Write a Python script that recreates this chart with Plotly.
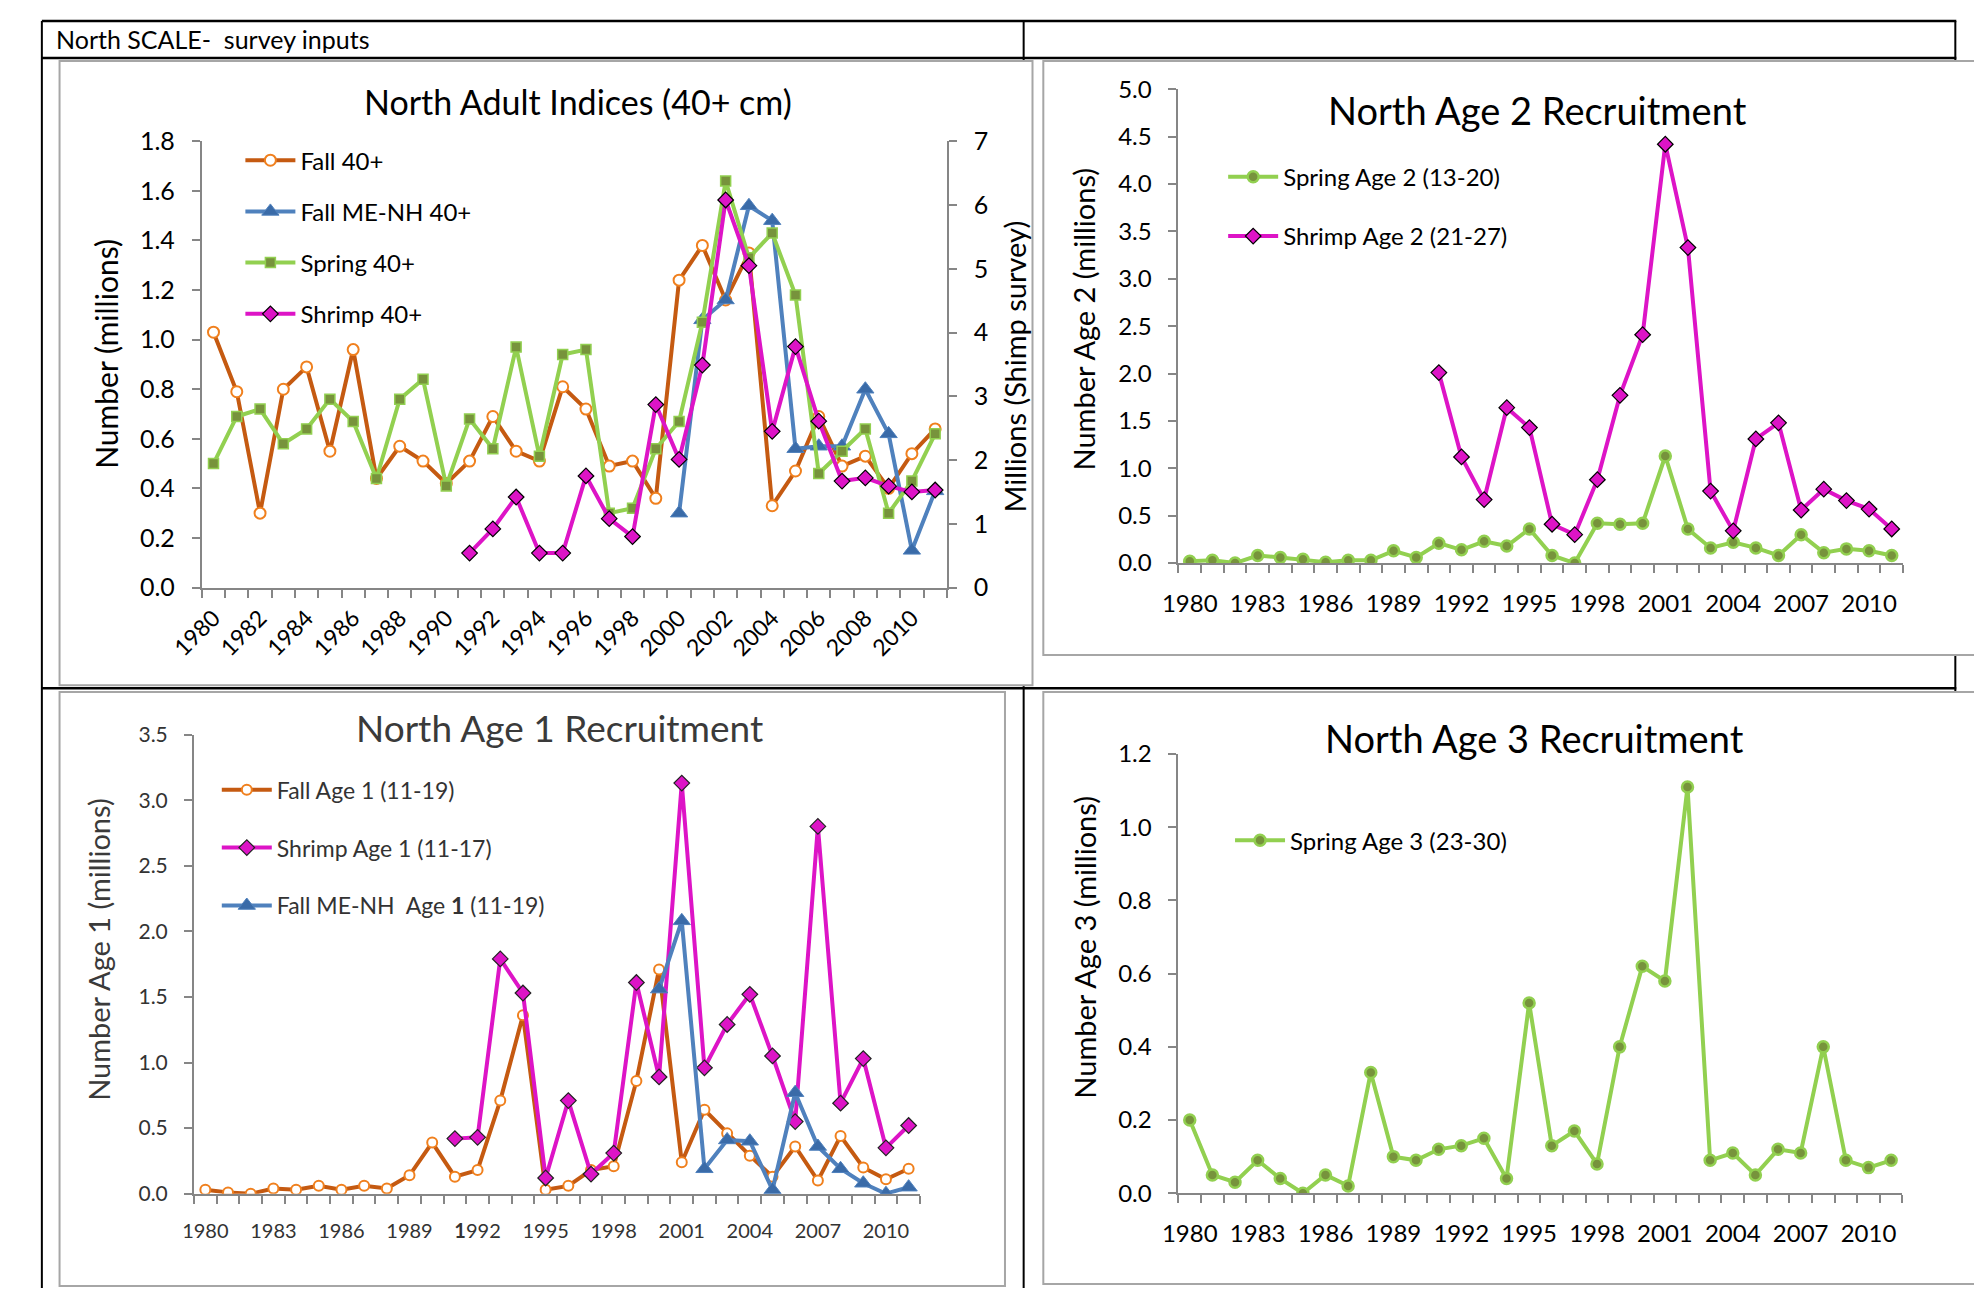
import plotly.graph_objects as go

W, H = 1974, 1302

# ---------------- data (millions) ----------------
years = list(range(1980, 2012))

# North adult indices, 40+ cm
fall_40 = [1.03, 0.79, 0.30, 0.80, 0.89, 0.55, 0.96, 0.44, 0.57, 0.51, 0.42, 0.51, 0.69, 0.55, 0.51, 0.81, 0.72,
           0.49, 0.51, 0.36, 1.24, 1.38, 1.16, 1.35, 0.33, 0.47, 0.69, 0.49, 0.53, 0.40, 0.54, 0.64]
spring_40 = [0.50, 0.69, 0.72, 0.58, 0.64, 0.76, 0.67, 0.44, 0.76, 0.84, 0.41, 0.68, 0.56, 0.97, 0.53, 0.94, 0.96,
             0.30, 0.32, 0.56, 0.67, 1.07, 1.64, 1.33, 1.43, 1.18, 0.46, 0.55, 0.64, 0.30, 0.43, 0.62]
fall_menh_years = list(range(2000, 2012))
fall_menh_40 = [0.30, 1.08, 1.16, 1.54, 1.48, 0.56, 0.57, 0.57, 0.80, 0.62, 0.15, 0.39]
shrimp_years = list(range(1991, 2012))
shrimp_40 = [0.54, 0.92, 1.42, 0.54, 0.54, 1.75, 1.08, 0.80, 2.87, 2.01, 3.49, 6.08, 5.05, 2.45, 3.78, 2.61,
             1.67, 1.72, 1.59, 1.50, 1.53]

# Age 2 recruitment
spring_age2 = [0.02, 0.03, 0.00, 0.08, 0.06, 0.04, 0.01, 0.03, 0.03, 0.13,
               0.06, 0.21, 0.14, 0.23, 0.18, 0.36, 0.08, 0.00, 0.42, 0.41,
               0.42, 1.13, 0.36, 0.16, 0.22, 0.16, 0.08, 0.30, 0.11, 0.15,
               0.13, 0.08]
shrimp_age2 = [2.01, 1.12, 0.67, 1.64, 1.43, 0.41, 0.30, 0.88, 1.77, 2.41, 4.42, 3.33, 0.76, 0.34, 1.31, 1.48,
               0.56, 0.78, 0.66, 0.57, 0.36]

# Age 1 recruitment
fall_age1 = [0.03, 0.01, 0.00, 0.04, 0.03, 0.06, 0.03, 0.06, 0.04, 0.14,
             0.39, 0.13, 0.18, 0.71, 1.36, 0.03, 0.06, 0.18, 0.21, 0.86,
             1.71, 0.24, 0.64, 0.46, 0.29, 0.13, 0.36, 0.10, 0.44, 0.20,
             0.11, 0.19]
shrimp_age1 = [0.42, 0.43, 1.79, 1.53, 0.12, 0.71, 0.15, 0.31, 1.61, 0.89, 3.13, 0.96, 1.29, 1.52, 1.05, 0.55,
               2.80, 0.69, 1.03, 0.35, 0.52]
fall_menh_age1 = [1.56, 2.08, 0.19, 0.41, 0.40, 0.03, 0.77, 0.36, 0.19, 0.08, 0.00, 0.05]

# Age 3 recruitment
spring_age3 = [0.20, 0.05, 0.03, 0.09, 0.04, 0.00, 0.05, 0.02, 0.33, 0.10,
               0.09, 0.12, 0.13, 0.15, 0.04, 0.52, 0.13, 0.17, 0.08, 0.40,
               0.62, 0.58, 1.11, 0.09, 0.11, 0.05, 0.12, 0.11, 0.40, 0.09,
               0.07, 0.09]

adult_ticks = list(range(1980, 2011, 2))
recruit_ticks = list(range(1980, 2011, 3))
age1_ticktext = ["<b>1</b>992" if y == 1992 else str(y) for y in recruit_ticks]

# ---------------- styling ----------------
FONT = "Lato"
AX = "#868686"
ORANGE_LINE, ORANGE_MK = "#C55A11", "#F0801E"
BLUE_LINE, BLUE_MK = "#4F81BD", "#3A6BA8"
GREEN_LINE, GREEN_MK = "#92D050", "#77933C"
MAGENTA = "#DD14C6"
GREY_TEXT = "#3a3a3a"


def fx(x):
    return x / W


def fy(y):
    return 1 - y / H


def boundaries(start, end):
    return [v - 0.5 for v in range(start, end + 2)]


def xaxis_cfg(domain, anchor, tickvals, ticktext, angle, size, color="black", standoff=18):
    return dict(domain=domain, anchor=anchor, range=[1979.5, 2011.5], showgrid=False, zeroline=False,
                showline=True, linecolor=AX, linewidth=2, tickmode="array", tickvals=tickvals,
                ticktext=ticktext, ticks="", tickangle=angle, ticklabelstandoff=standoff,
                tickfont=dict(family=FONT, size=size, color=color),
                minor=dict(tickmode="array", tickvals=boundaries(1980, 2011), ticks="outside",
                           ticklen=8, tickwidth=1.5, tickcolor=AX))


def yaxis_cfg(domain, anchor, rng, dtick, fmt, size, color="black", side="left", overlaying=None):
    d = dict(domain=domain, anchor=anchor, range=rng, dtick=dtick, tickformat=fmt, showgrid=False,
             zeroline=False, showline=True, linecolor=AX, linewidth=2, ticks="outside", ticklen=8,
             tickwidth=1.5, tickcolor=AX, side=side, ticklabelstandoff=12,
             tickfont=dict(family=FONT, size=size, color=color))
    if overlaying:
        d["overlaying"] = overlaying
    return d


fig = go.Figure()


def add_line(x, y, name, xa, ya, legend, line_color, symbol, mk_size, mk_color, mk_line, mk_lw=1.5, lw=4):
    fig.add_trace(go.Scatter(
        x=x, y=y, name=name, mode="lines+markers", xaxis=xa, yaxis=ya, legend=legend,
        legendgroup=name,
        line=dict(color=line_color, width=lw),
        marker=dict(symbol=symbol, size=mk_size, color=mk_color, line=dict(color=mk_line, width=mk_lw)),
    ))


# Panel 1: adult indices
add_line(years, fall_40, "Fall 40+", "x", "y", "legend", ORANGE_LINE, "circle", 11, "white", ORANGE_MK, 2)
add_line(fall_menh_years, fall_menh_40, "Fall ME-NH 40+", "x", "y", "legend", BLUE_LINE, "triangle-up", 15,
         BLUE_MK, BLUE_LINE, 1)
add_line(years, spring_40, "Spring 40+", "x", "y", "legend", GREEN_LINE, "square", 10, GREEN_MK, GREEN_LINE, 1.5)
add_line(shrimp_years, shrimp_40, "Shrimp 40+", "x", "y2", "legend", MAGENTA, "diamond", 12, MAGENTA, "black", 1.2)

# Panel 2: age 2
add_line(years, spring_age2, "Spring Age 2 (13-20)", "x2", "y3", "legend2", GREEN_LINE, "circle", 11, GREEN_MK,
         GREEN_LINE, 2.5)
add_line(shrimp_years, shrimp_age2, "Shrimp Age 2 (21-27)", "x2", "y3", "legend2", MAGENTA, "diamond", 12,
         MAGENTA, "black", 1.2)

# Panel 3: age 1
add_line(years, fall_age1, "Fall Age 1 (11-19)", "x3", "y4", "legend3", ORANGE_LINE, "circle", 10, "white",
         ORANGE_MK, 2)
add_line(shrimp_years, shrimp_age1, "Shrimp Age 1 (11-17)", "x3", "y4", "legend3", MAGENTA, "diamond", 12,
         MAGENTA, "#222222", 1.2)
add_line(fall_menh_years, fall_menh_age1, "Fall ME-NH  Age <b>1</b> (11-19)", "x3", "y4", "legend3", BLUE_LINE,
         "triangle-up", 15, BLUE_MK, BLUE_LINE, 1)

# Panel 4: age 3
add_line(years, spring_age3, "Spring Age 3 (23-30)", "x4", "y5", "legend4", GREEN_LINE, "circle", 11, GREEN_MK,
         GREEN_LINE, 2.5)

# ---------------- frame: table rules and chart boxes ----------------
shapes = []


def rule(x0, y0, x1, y1, w=2.5, color="black"):
    shapes.append(dict(type="line", xref="paper", yref="paper", x0=fx(x0), y0=fy(y0), x1=fx(x1), y1=fy(y1),
                       line=dict(color=color, width=w), layer="below"))


def box(x0, y0, x1, y1):
    shapes.append(dict(type="rect", xref="paper", yref="paper", x0=fx(x0), y0=fy(y0), x1=fx(x1), y1=fy(y1),
                       line=dict(color="#A6A6A6", width=2), fillcolor="white", layer="below"))


rule(8, 5, 1956, 5)
rule(8, 43, 1956, 43)
rule(8, 5, 8, 1302, 2)
rule(1007, 5, 1007, 1302, 2)
rule(1955, 5, 1955, 694, 2)
rule(8, 688, 1956, 688)

box(26, 46, 1016, 685)
box(1027, 46, 1978, 654)
box(26, 692, 988, 1300)
box(1027, 692, 1978, 1298)

# ---------------- text ----------------
annotations = [
    dict(text="North SCALE-  survey inputs", x=fx(20), y=fy(24), xanchor="left", yanchor="middle",
         font=dict(family=FONT, size=25, color="black")),
    dict(text="North Adult Indices (40+ cm)", x=fx(554), y=fy(88), xanchor="center", yanchor="middle",
         font=dict(family=FONT, size=34, color="black")),
    dict(text="North Age 2 Recruitment", x=fx(1530), y=fy(96), xanchor="center", yanchor="middle",
         font=dict(family=FONT, size=38, color="black")),
    dict(text="North Age 1 Recruitment", x=fx(535), y=fy(728), xanchor="center", yanchor="middle",
         font=dict(family=FONT, size=37, color=GREY_TEXT)),
    dict(text="North Age 3 Recruitment", x=fx(1527), y=fy(739), xanchor="center", yanchor="middle",
         font=dict(family=FONT, size=38, color="black")),
    dict(text="Number (millions)", x=fx(73), y=fy(346), textangle=-90, xanchor="center", yanchor="middle",
         font=dict(family=FONT, size=30, color="black")),
    dict(text="Millions (Shimp survey)", x=fx(998), y=fy(359), textangle=-90, xanchor="center",
         yanchor="middle", font=dict(family=FONT, size=29, color="black")),
    dict(text="Number Age 2 (millions)", x=fx(1068), y=fy(310), textangle=-90, xanchor="center",
         yanchor="middle", font=dict(family=FONT, size=29, color="black")),
    dict(text="Number Age 1 (millions)", x=fx(66), y=fy(955), textangle=-90, xanchor="center",
         yanchor="middle", font=dict(family=FONT, size=29, color=GREY_TEXT)),
    dict(text="Number Age 3 (millions)", x=fx(1068), y=fy(953), textangle=-90, xanchor="center",
         yanchor="middle", font=dict(family=FONT, size=29, color="black")),
]
for a in annotations:
    a.update(xref="paper", yref="paper", showarrow=False)


def legend_cfg(x, y, size, gap, color="black"):
    return dict(x=fx(x), y=fy(y), xanchor="left", yanchor="top", bgcolor="rgba(0,0,0,0)",
                font=dict(family=FONT, size=size, color=color), tracegroupgap=gap, itemwidth=50,
                traceorder="grouped")


fig.update_layout(
    width=W, height=H, margin=dict(l=0, r=0, t=0, b=0),
    paper_bgcolor="white", plot_bgcolor="rgba(0,0,0,0)",
    showlegend=True,
    shapes=shapes, annotations=annotations,
    legend=legend_cfg(210, 125, 24, 17),
    legend2=legend_cfg(1210, 142, 24, 25),
    legend3=legend_cfg(186, 770, 23, 25, "#333333"),
    legend4=legend_cfg(1217, 821, 24, 20),
    # panel 1
    xaxis=xaxis_cfg([fx(170.8), fx(928.8)], "y", adult_ticks, [str(v) for v in adult_ticks], -45, 23,
                    standoff=6),
    yaxis=yaxis_cfg([fy(585), fy(128.3)], "x", [0, 1.8], 0.2, ".1f", 25),
    yaxis2=yaxis_cfg([fy(585), fy(128.3)], "x", [0, 7], 1, "d", 25, side="right", overlaying="y"),
    # panel 2
    xaxis2=xaxis_cfg([fx(1164.5), fx(1901.8)], "y3", recruit_ticks, [str(v) for v in recruit_ticks], 0, 24),
    yaxis3=yaxis_cfg([fy(560), fy(75)], "x2", [0, 5], 0.5, ".1f", 24),
    # panel 3
    xaxis3=xaxis_cfg([fx(162.8), fx(901.5)], "y4", recruit_ticks, age1_ticktext, 0, 20, "#333333"),
    yaxis4=yaxis_cfg([fy(1205.5), fy(735.5)], "x3", [0, 3.5], 0.5, ".1f", 21, "#333333"),
    # panel 4
    xaxis4=xaxis_cfg([fx(1164.5), fx(1901.2)], "y5", recruit_ticks, [str(v) for v in recruit_ticks], 0, 24),
    yaxis5=yaxis_cfg([fy(1205), fy(755.5)], "x4", [0, 1.2], 0.2, ".1f", 24),
)

fig.write_html("out.html")
